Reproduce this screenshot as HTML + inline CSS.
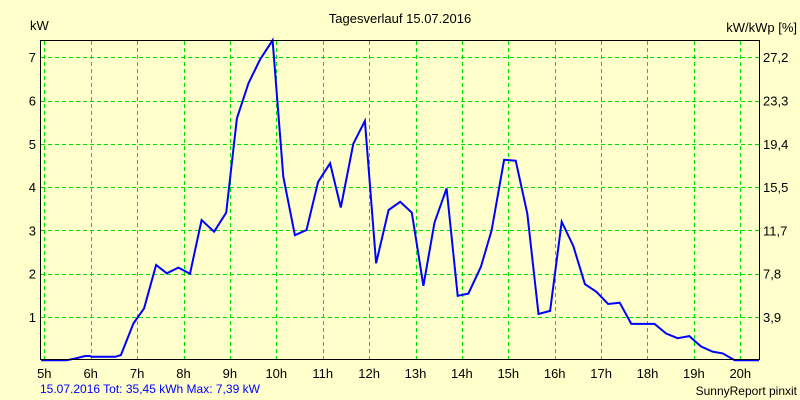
<!DOCTYPE html>
<html><head><meta charset="utf-8"><style>
html,body{margin:0;padding:0;background:#ffffcc;}
svg{display:block;font-family:"Liberation Sans",sans-serif;}
</style></head><body>
<svg id="chart" width="800" height="400" viewBox="0 0 800 400">
<rect x="0" y="0" width="800" height="400" fill="#ffffcc"/>
<text x="400" y="23" font-size="13" text-anchor="middle">Tagesverlauf 15.07.2016</text>
<text x="30" y="30" font-size="13">kW</text>
<text x="797" y="32" font-size="13" text-anchor="end">kW/kWp [%]</text>
<g id="grid"></g>
<g id="axes"></g>
<g id="series"></g>
<rect x="40.5" y="40.5" width="719" height="319" fill="none" stroke="#000" stroke-width="1"/>
<text x="40" y="393" font-size="12" fill="#0000ff">15.07.2016 Tot: 35,45 kWh Max: 7,39 kW</text>
<text x="797" y="395" font-size="12" text-anchor="end">SunnyReport pinxit</text>
</svg>
<script>
const hourTicks = [5,6,7,8,9,10,11,12,13,14,15,16,17,18,19,20];
const kwTicks = [1,2,3,4,5,6,7];
const pctLabels = ["3,9","7,8","11,7","15,5","19,4","23,3","27,2"];
const times = [4.93,5.48,5.7,5.88,5.98,6.02,6.53,6.65,6.92,7.15,7.41,7.64,7.89,8.14,8.39,8.66,8.92,9.15,9.4,9.65,9.92,10.15,10.4,10.65,10.9,11.16,11.39,11.66,11.91,12.15,12.42,12.67,12.92,13.17,13.41,13.67,13.91,14.14,14.41,14.64,14.91,15.16,15.41,15.65,15.9,16.15,16.4,16.65,16.9,17.15,17.4,17.65,18.15,18.4,18.65,18.9,19.15,19.4,19.62,19.88,20.42];
const powerKw = [0,0,0.05,0.1,0.1,0.08,0.08,0.12,0.85,1.2,2.2,2.01,2.14,2.0,3.24,2.97,3.41,5.59,6.4,6.95,7.39,4.24,2.89,3.01,4.12,4.55,3.53,5.0,5.53,2.24,3.47,3.66,3.41,1.72,3.18,3.97,1.49,1.54,2.16,3.0,4.63,4.61,3.39,1.07,1.14,3.2,2.64,1.76,1.58,1.3,1.33,0.84,0.84,0.62,0.51,0.56,0.32,0.2,0.16,0,0];
const NS="http://www.w3.org/2000/svg";
function xs(t){return 44.3+(t-5)*46.4;}
function ys(v){return 360.3-v*43.3;}
function mk(tag,attrs,parent){const e=document.createElementNS(NS,tag);for(const k in attrs)e.setAttribute(k,attrs[k]);parent.appendChild(e);return e;}
const grid=document.getElementById('grid'),axes=document.getElementById('axes'),series=document.getElementById('series');
hourTicks.forEach(h=>{
  const x=Math.round(xs(h))+0.5;
  const l=mk('line',{x1:x,y1:41,x2:x,y2:359,stroke:'#00e000','stroke-dasharray':'4,3'},grid);
  
  
  const t=mk('text',{x:xs(h),y:378,'font-size':13,'text-anchor':'middle'},axes);
  t.textContent=h+'h';
  
  
});
kwTicks.forEach((v,i)=>{
  const y=Math.round(ys(v))+0.5;
  const l=mk('line',{x1:41,y1:y,x2:759,y2:y,stroke:'#00e000','stroke-dasharray':'4,3'},grid);
  
  
  const t=mk('text',{x:36,y:ys(v)+5,'font-size':13,'text-anchor':'end'},axes);
  t.textContent=v;
  
  
  const r=mk('text',{x:763,y:ys(v)+5,'font-size':13},axes);
  r.textContent=pctLabels[i];
  
  
});
const pts=times.map((t,i)=>Math.max(41,Math.min(759,xs(t))).toFixed(1)+','+ys(powerKw[i]).toFixed(1)).join(' ');
const pl=mk('polyline',{points:pts,fill:'none',stroke:'#0000ff','stroke-width':2,'stroke-linejoin':'miter'},series);


</script>
</body></html>
